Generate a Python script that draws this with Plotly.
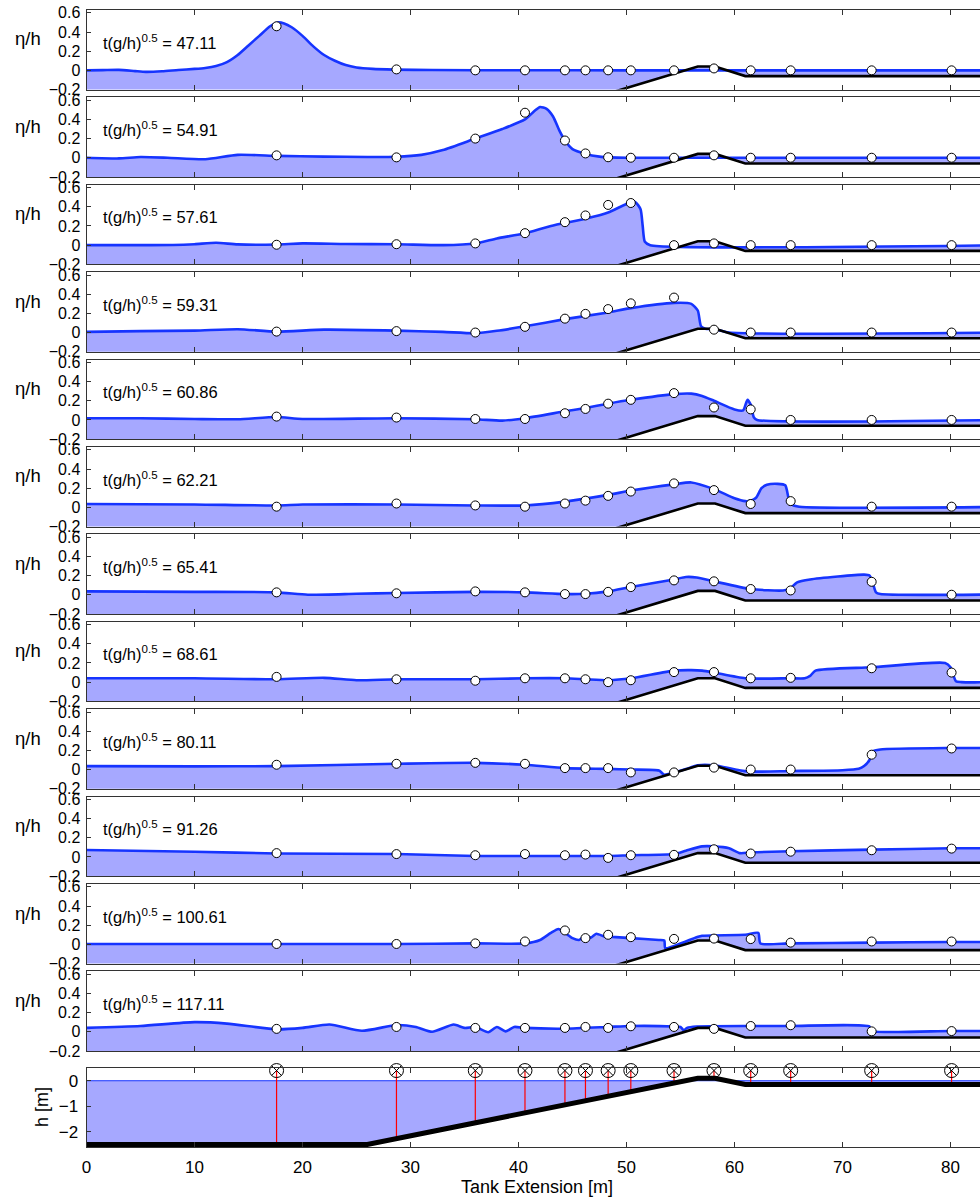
import numpy as np
import plotly.graph_objects as go

# ---------------- data ----------------
h = 2.5
bathy_x = [0, 26, 56.6, 58.2, 61.0, 85]
bathy_z = [-2.5, -2.5, 0.1, 0.1, -0.15, -0.15]

gauges_x = [17.6, 28.7, 36.0, 40.6, 44.3, 46.2, 48.3, 50.4, 54.4, 58.1, 61.5, 65.2, 72.7, 80.1]

t_labels = ["47.11", "54.91", "57.61", "59.31", "60.86", "62.21",
            "65.41", "68.61", "80.11", "91.26", "100.61", "117.11"]

x47 = [0, 1.5, 3, 4.5, 5.5, 7, 8.5, 10, 11, 12, 13, 14, 15, 16, 17, 17.7, 18.3, 19, 20, 21, 22, 23, 24, 25, 26.5, 28.5, 32, 40, 50, 85]
e47 = [0.0, 0.002, 0.005, -0.008, -0.016, -0.01, 0.004, 0.015, 0.025, 0.045, 0.085, 0.16, 0.26, 0.36, 0.46, 0.50, 0.49, 0.45, 0.36, 0.25, 0.16, 0.10, 0.055, 0.03, 0.015, 0.008, 0.003, 0.001, 0.0, 0.0]
g47 = [0.46, 0.01, 0.0, 0.0, 0.0, 0.0, 0.0, 0.0, 0.0, 0.02, 0.0, 0.0, 0.0, 0.0]

x54 = [0, 3, 5, 7.5, 11, 14, 17.6, 22, 26, 28.7, 31, 33, 36, 38.5, 40.6, 41.5, 42, 42.6, 43.2, 43.8, 44.3, 45, 46.2, 47.5, 48.5, 50, 85]
e54 = [0.0, -0.007, 0.007, 0.0, -0.015, 0.03, 0.02, 0.012, 0.008, 0.01, 0.03, 0.08, 0.2, 0.3, 0.40, 0.49, 0.53, 0.51, 0.43, 0.28, 0.18, 0.09, 0.04, 0.012, 0.004, 0.0, 0.0]
g54 = [0.025, 0.004, 0.2, 0.47, 0.18, 0.045, 0.005, 0.0, 0.0, 0.025, 0.0, 0.0, 0.0, 0.0]

x57 = [0, 8, 10, 12, 14, 17.6, 20, 24, 28.7, 33, 36, 38, 40.6, 43, 46.2, 48.3, 50, 50.8, 51.3, 51.5, 51.7, 52.2, 85]
e57 = [0.0, 0.002, 0.01, 0.025, 0.008, 0.007, 0.018, 0.012, 0.01, 0.0, 0.018, 0.07, 0.125, 0.2, 0.275, 0.34, 0.43, 0.45, 0.375, 0.2, 0.035, 0.0, 0.0]
g57 = [0.004, 0.01, 0.018, 0.125, 0.24, 0.31, 0.42, 0.44, 0.0, 0.018, 0.0, 0.0, 0.0, 0.0]

x59 = [0, 5, 10, 14, 17.6, 22, 28.7, 33, 36, 38, 40.6, 44.3, 48.3, 50.4, 54.4, 56, 56.6, 56.9, 57.3, 58.1, 59.5, 85]
e59 = [0.007, 0.015, 0.02, 0.035, 0.01, 0.03, 0.02, 0.007, -0.007, 0.018, 0.065, 0.14, 0.21, 0.255, 0.31, 0.30, 0.23, 0.065, 0.04, 0.035, 0.0, 0.0]
g59 = [0.01, 0.015, 0.0, 0.06, 0.145, 0.195, 0.245, 0.305, 0.365, 0.03, 0.0, 0.0, 0.0, 0.0]

x60 = [0, 5, 10, 14, 17.6, 20, 28.7, 36, 38.5, 40.6, 44.3, 46.2, 48.3, 50.4, 54.4, 56, 57, 58.1, 60, 60.8, 61.2, 61.5, 61.8, 62.1, 85]
e60 = [0.018, 0.018, 0.01, 0.007, 0.03, 0.01, 0.018, 0.007, -0.007, 0.018, 0.09, 0.125, 0.17, 0.21, 0.27, 0.275, 0.25, 0.2, 0.11, 0.1, 0.21, 0.16, 0.025, 0.0, 0.0]
g60 = [0.035, 0.025, 0.01, 0.01, 0.07, 0.115, 0.17, 0.21, 0.28, 0.13, 0.11, 0.0, 0.0, 0.0]

x62 = [0, 10, 17.6, 20, 28.7, 36, 40.6, 44.3, 48.3, 50.4, 54.4, 56, 58.1, 60, 61, 61.5, 62, 62.5, 63, 64, 64.7, 65.0, 65.3, 66, 85]
e62 = [0.035, 0.03, 0.02, 0.03, 0.03, 0.02, 0.02, 0.06, 0.13, 0.175, 0.24, 0.26, 0.19, 0.095, 0.065, 0.07, 0.1, 0.2, 0.235, 0.245, 0.23, 0.1, 0.03, 0.007, 0.004]
g62 = [0.007, 0.04, 0.02, 0.007, 0.04, 0.07, 0.12, 0.165, 0.25, 0.18, 0.035, 0.065, 0.007, 0.007]

x65 = [0, 10, 17.6, 20.5, 25, 28.7, 36, 40.6, 44.3, 46.2, 48.3, 50.4, 54.4, 55.5, 56.5, 58.1, 61.5, 64.5, 65.2, 65.8, 67, 72, 72.5, 72.8, 73.1, 73.5, 85]
e65 = [0.035, 0.03, 0.025, 0.0, 0.01, 0.018, 0.03, 0.025, 0.007, 0.01, 0.035, 0.08, 0.16, 0.185, 0.18, 0.14, 0.06, 0.045, 0.07, 0.13, 0.16, 0.21, 0.2, 0.125, 0.025, 0.007, 0.004]
g65 = [0.025, 0.015, 0.035, 0.025, 0.007, 0.007, 0.03, 0.08, 0.15, 0.14, 0.06, 0.045, 0.135, 0.0]

x68 = [0, 10, 17.6, 22, 25, 28.7, 36, 40.6, 44.3, 46.2, 48.3, 50.4, 54.4, 56, 57, 58.1, 61, 65.2, 66.5, 67, 67.5, 72.7, 79.5, 80, 80.5, 81, 85]
e68 = [0.04, 0.04, 0.03, 0.045, 0.02, 0.03, 0.03, 0.04, 0.04, 0.03, 0.02, 0.04, 0.12, 0.125, 0.12, 0.1, 0.04, 0.04, 0.04, 0.065, 0.12, 0.155, 0.2, 0.155, 0.01, 0.0, 0.0]
g68 = [0.055, 0.03, 0.015, 0.04, 0.04, 0.03, 0.0, 0.02, 0.105, 0.105, 0.04, 0.045, 0.145, 0.1]

x80 = [0, 10, 17.6, 28.7, 36, 40.6, 44.3, 48.3, 50.4, 53, 53.5, 54.4, 55.5, 56.6, 58.1, 61.2, 65.2, 70, 71.5, 72, 72.5, 72.8, 73.5, 80, 85]
e80 = [0.036, 0.033, 0.036, 0.06, 0.07, 0.05, 0.015, 0.007, 0.0, -0.01, -0.055, -0.03, 0.005, 0.045, 0.045, -0.02, -0.015, -0.007, 0.007, 0.036, 0.1, 0.19, 0.21, 0.225, 0.225]
g80 = [0.05, 0.06, 0.07, 0.06, 0.015, 0.015, 0.015, -0.03, -0.03, 0.02, 0.0, 0.0, 0.155, 0.22]

x91 = [0, 10, 17.6, 28.7, 36, 44.3, 48.3, 50.4, 54.4, 55.5, 57, 58.1, 59.5, 60.5, 61.5, 65.2, 72.7, 80, 85]
e91 = [0.073, 0.055, 0.036, 0.03, 0.01, 0.01, 0.01, 0.018, 0.03, 0.065, 0.11, 0.11, 0.09, 0.04, 0.047, 0.06, 0.076, 0.09, 0.09]
g91 = [0.04, 0.03, 0.018, 0.03, 0.018, 0.025, -0.01, 0.018, 0.022, 0.08, 0.036, 0.055, 0.07, 0.087]

x100 = [0, 17.6, 28.7, 36, 40.6, 42, 43, 43.7, 44.3, 45, 45.6, 46.2, 46.7, 47.2, 48, 49, 50.4, 53, 53.5, 53.6, 56.5, 57, 61, 62.2, 62.4, 65.2, 72.7, 80, 85]
e100 = [0.004, 0.004, 0.004, 0.01, 0.01, 0.046, 0.12, 0.16, 0.12, 0.065, 0.046, 0.09, 0.07, 0.11, 0.08, 0.075, 0.065, 0.046, 0.04, -0.04, 0.075, 0.09, 0.1, 0.12, 0.01, 0.01, 0.018, 0.025, 0.025]
g100 = [0.004, 0.004, 0.01, 0.03, 0.145, 0.065, 0.1, 0.075, 0.057, 0.06, 0.055, 0.018, 0.03, 0.03]

x117 = [0, 5, 10, 13, 17.6, 20, 22.5, 25.5, 28.7, 30.5, 32, 34, 35, 36, 37.2, 38, 38.8, 39.6, 40.6, 44.3, 48.3, 50.4, 54.4, 55, 55.3, 55.6, 56.5, 61.5, 65.2, 72.5, 72.6, 80, 85]
e117 = [0.04, 0.06, 0.1, 0.085, 0.025, 0.04, 0.075, 0.01, 0.07, 0.05, 0.0, 0.075, 0.04, 0.05, -0.005, 0.05, 0.004, 0.05, 0.04, 0.032, 0.05, 0.06, 0.055, 0.05, 0.015, 0.04, 0.055, 0.06, 0.06, 0.055, 0.01, 0.008, 0.008]
g117 = [0.03, 0.05, 0.04, 0.04, 0.04, 0.05, 0.04, 0.057, 0.05, 0.03, 0.06, 0.068, 0.004, 0.007]

surf_x = [x47, x54, x57, x59, x60, x62, x65, x68, x80, x91, x100, x117]
surf_e = [e47, e54, e57, e59, e60, e62, e65, e68, e80, e91, e100, e117]
gauge_e = [g47, g54, g57, g59, g60, g62, g65, g68, g80, g91, g100, g117]

gauge_marker_level = 0.4
eta_ticks = [-0.2, 0, 0.2, 0.4, 0.6]
h_ticks = [-2, -1, 0]
x_ticks = [0, 10, 20, 30, 40, 50, 60, 70, 80]

# ---------------- style / layout ----------------
W, H = 980, 1201
FONT = "Liberation Sans, Arial, Helvetica, sans-serif"
FILL = "rgb(166,168,255)"
BLUE = "rgb(22,52,255)"
AXC = "#333333"
x0_px = 86.5
px_per_m = 10.8
xr = [0, (W - x0_px) / px_per_m]
xdom = [x0_px / W, 1.0]
pitch = 87.4
panel_h = 79.5


def ydom(top, bottom):
    return [1 - bottom / H, 1 - top / H]


fig = go.Figure()
layout = dict(width=W, height=H, margin=dict(l=0, r=0, t=0, b=0),
              paper_bgcolor="white", plot_bgcolor="white", showlegend=False,
              font=dict(family=FONT, color="black"))
annotations = []

bz_eta = [z / h for z in bathy_z]

for k in range(12):
    n = k + 1
    xa = "x" if n == 1 else f"x{n}"
    ya = "y" if n == 1 else f"y{n}"
    top = 10 + pitch * k
    bot = top + panel_h
    layout[f"xaxis{'' if n == 1 else n}"] = dict(
        domain=xdom, range=xr, anchor=ya, tickvals=x_ticks, showticklabels=False,
        ticks="inside", ticklen=5, tickcolor=AXC, showline=True, linecolor=AXC,
        linewidth=1, mirror="ticks", showgrid=False, zeroline=False, automargin=False)
    layout[f"yaxis{'' if n == 1 else n}"] = dict(
        domain=ydom(top, bot), range=[-0.2, 0.63], anchor=xa, tickvals=eta_ticks,
        ticktext=["\u22120.2", "0", "0.2", "0.4", "0.6"],
        ticks="inside", ticklen=4, tickcolor=AXC, showline=True, linecolor=AXC,
        linewidth=1, showgrid=False, zeroline=False, automargin=False,
        tickfont=dict(size=16, family=FONT, color="black"), ticklabelstandoff=2)

    sx, se = surf_x[k], surf_e[k]
    # invisible bottom boundary, then smoothed surface filled down to it
    fig.add_trace(go.Scatter(x=bathy_x, y=bz_eta, mode="lines", line=dict(width=0),
                             hoverinfo="skip", xaxis=xa, yaxis=ya))
    fig.add_trace(go.Scatter(x=sx, y=se, mode="lines", fill="tonexty", fillcolor=FILL,
                             line=dict(color=BLUE, width=2.6, shape="spline", smoothing=0.6),
                             xaxis=xa, yaxis=ya))
    fig.add_trace(go.Scatter(x=bathy_x, y=bz_eta, mode="lines",
                             line=dict(color="black", width=2.6), xaxis=xa, yaxis=ya))
    fig.add_trace(go.Scatter(x=gauges_x, y=gauge_e[k], mode="markers",
                             marker=dict(symbol="circle", size=9, color="white",
                                         line=dict(color="black", width=1)),
                             xaxis=xa, yaxis=ya, cliponaxis=False))

    annotations.append(dict(text="\u03b7/h", x=28 / W, y=1 - (top + 29) / H, xref="paper",
                            yref="paper", showarrow=False, xanchor="center", yanchor="middle",
                            font=dict(size=18.5, family=FONT, color="black")))
    annotations.append(dict(text=f"t(g/h)<sup>0.5</sup> = {t_labels[k]}", x=101 / W,
                            y=1 - (top + 31.5) / H, xref="paper", yref="paper",
                            showarrow=False, xanchor="left", yanchor="middle",
                            font=dict(size=16.5, family=FONT, color="black")))

# bottom panel (bathymetry + gauges)
top, bot = 1068, 1147
layout["xaxis13"] = dict(domain=xdom, range=xr, anchor="y13", tickvals=x_ticks,
                         ticks="inside", ticklen=5, tickcolor=AXC, showline=True,
                         linecolor=AXC, linewidth=1, mirror="ticks", showgrid=False,
                         zeroline=False, automargin=False, ticklabelstandoff=5,
                         tickfont=dict(size=17, family=FONT, color="black"))
layout["yaxis13"] = dict(domain=ydom(top, bot), range=[-2.6, 0.5], anchor="x13",
                         tickvals=h_ticks, ticks="inside", ticklen=4, tickcolor=AXC,
                         showline=True, linecolor=AXC, linewidth=1, showgrid=False,
                         zeroline=False, automargin=False, ticklabelstandoff=4,
                         tickfont=dict(size=17, family=FONT, color="black"))

fig.add_trace(go.Scatter(x=[0, 85] + bathy_x[::-1], y=[0, 0] + bathy_z[::-1], fill="toself",
                         fillcolor=FILL, mode="lines", line=dict(width=0), hoverinfo="skip",
                         xaxis="x13", yaxis="y13"))
fig.add_trace(go.Scatter(x=[0, 85], y=[0, 0], mode="lines", line=dict(color=BLUE, width=1),
                         xaxis="x13", yaxis="y13"))
gauge_bottom = np.interp(gauges_x, bathy_x, bathy_z)
rx, ry = [], []
for gx, gb in zip(gauges_x, gauge_bottom):
    rx += [gx, gx, None]
    ry += [gauge_marker_level, float(gb), None]
fig.add_trace(go.Scatter(x=rx, y=ry, mode="lines", line=dict(color="red", width=1.2),
                         xaxis="x13", yaxis="y13"))
fig.add_trace(go.Scatter(x=bathy_x, y=bathy_z, mode="lines", line=dict(color="black", width=5),
                         xaxis="x13", yaxis="y13"))
fig.add_trace(go.Scatter(x=gauges_x, y=[gauge_marker_level] * len(gauges_x), mode="markers",
                         marker=dict(symbol="circle-x-open", size=14, color="black",
                                     line=dict(color="black", width=1)),
                         xaxis="x13", yaxis="y13", cliponaxis=False))

annotations.append(dict(text="Tank Extension [m]", x=537 / W, y=1 - 1187 / H, xref="paper",
                        yref="paper", showarrow=False, xanchor="center", yanchor="middle",
                        font=dict(size=18, family=FONT, color="black")))
annotations.append(dict(text="h [m]", x=42 / W, y=1 - 1107 / H, xref="paper", yref="paper",
                        showarrow=False, xanchor="center", yanchor="middle", textangle=-90,
                        font=dict(size=18, family=FONT, color="black")))

layout["annotations"] = annotations
fig.update_layout(**layout)
fig.write_html("out.html")
